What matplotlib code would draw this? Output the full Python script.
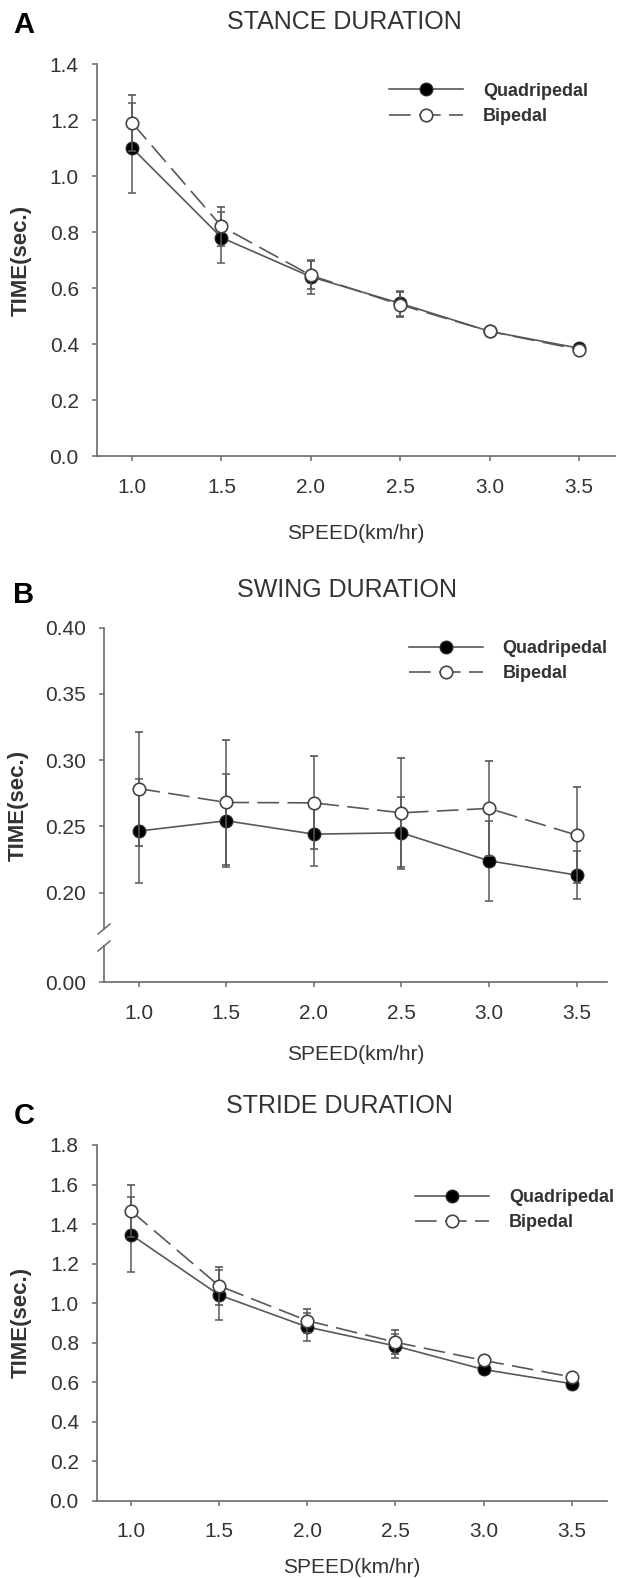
import matplotlib
matplotlib.use("Agg")
import matplotlib.pyplot as plt

plt.rcParams["font.family"] = ["Liberation Sans", "DejaVu Sans"]

speed = [1.0, 1.5, 2.0, 2.5, 3.0, 3.5]
speed_ticks = ["1.0", "1.5", "2.0", "2.5", "3.0", "3.5"]
labels = ["Quadripedal", "Bipedal"]

stance_quad = [1.10, 0.78, 0.64, 0.545, 0.445, 0.385]
stance_quad_sd = [0.16, 0.09, 0.06, 0.045, 0.01, 0.01]
stance_bip = [1.19, 0.82, 0.645, 0.54, 0.445, 0.38]
stance_bip_sd = [0.10, 0.07, 0.05, 0.045, 0.01, 0.01]

swing_quad = [0.2465, 0.2543, 0.2442, 0.2452, 0.2241, 0.2133]
swing_quad_sd = [0.039, 0.035, 0.024, 0.027, 0.030, 0.018]
swing_bip = [0.2786, 0.2681, 0.2678, 0.2603, 0.2636, 0.2435]
swing_bip_sd = [0.043, 0.0475, 0.035, 0.041, 0.036, 0.036]

stride_quad = [1.346, 1.041, 0.879, 0.783, 0.664, 0.592]
stride_quad_sd = [0.19, 0.128, 0.07, 0.06, 0.02, 0.015]
stride_bip = [1.466, 1.087, 0.911, 0.802, 0.71, 0.626]
stride_bip_sd = [0.13, 0.097, 0.06, 0.06, 0.02, 0.015]

TXT = "#333333"
AXC = "#6a6a6a"
LINE = "#585858"
W, H = 621, 1578


def rect(left, top, right, bottom):
    # pixel box -> figure fraction
    return [left / W, 1 - bottom / H, (right - left) / W, (bottom - top) / H]


def style(ax, left=True, bottom=True):
    for s in ["top", "right"]:
        ax.spines[s].set_visible(False)
    ax.spines["bottom"].set_visible(bottom)
    ax.spines["left"].set_visible(left)
    for s in ["left", "bottom"]:
        ax.spines[s].set_color(AXC)
        ax.spines[s].set_linewidth(1.2)
    ax.tick_params(direction="out", length=3.6, width=1.1, color=AXC,
                   labelsize=15, labelcolor=TXT)
    ax.tick_params(axis="x", pad=12)
    ax.tick_params(axis="y", pad=9.5)


def draw(ax, q, qsd, b, bsd):
    eq = ax.errorbar(speed, q, yerr=qsd, color=LINE, lw=1.2, elinewidth=1.1,
                     capsize=3, capthick=1.1, marker="o", ms=9,
                     mfc="black", mec="#222222", zorder=2, clip_on=False)
    eb = ax.errorbar(speed, b, yerr=bsd, color=LINE, lw=1.2, elinewidth=1.1,
                     capsize=3, capthick=1.1, marker="o", ms=9,
                     mfc="white", mec="#444444", mew=1.2, ls=(0, (13, 5)),
                     zorder=3, clip_on=False)
    return eq, eb


def legend(ax, eq, eb, x, y):
    ax.legend([eq[0], eb[0]], labels, loc="upper left", bbox_to_anchor=(x, y),
              frameon=False, borderpad=0, borderaxespad=0, numpoints=1,
              handlelength=4.1, handletextpad=1.1, labelspacing=0.45,
              prop={"size": 13, "weight": "bold"}, labelcolor=TXT)


fig = plt.figure(figsize=(W / 100, H / 100), dpi=100)

# ---- A: stance
axA = fig.add_axes(rect(97, 64, 615, 456))
style(axA)
eq, eb = draw(axA, stance_quad, stance_quad_sd, stance_bip, stance_bip_sd)
axA.set_xlim(0.804, 3.70)
axA.set_ylim(0, 1.4)
axA.set_yticks([0, 0.2, 0.4, 0.6, 0.8, 1.0, 1.2, 1.4])
axA.set_yticklabels(["0.0", "0.2", "0.4", "0.6", "0.8", "1.0", "1.2", "1.4"])
axA.set_xticks(speed)
axA.set_xticklabels(speed_ticks)
axA.set_xlabel("SPEED(km/hr)", fontsize=15, color=TXT)
axA.set_ylabel("TIME(sec.)", fontsize=16, fontweight="bold", color=TXT)
axA.xaxis.set_label_coords(0.5, -0.174)
axA.yaxis.set_label_coords(-0.125, 0.5)
legend(axA, eq, eb, 0.564, 0.952)

# ---- B: swing, broken y axis
axBt = fig.add_axes(rect(104, 627.7, 607, 929))
axBb = fig.add_axes(rect(104, 946, 607, 982.3), sharex=axBt)
style(axBt, bottom=False)
style(axBb)
eq, eb = draw(axBt, swing_quad, swing_quad_sd, swing_bip, swing_bip_sd)
axBt.set_xlim(0.803, 3.674)
axBt.set_ylim(0.1726, 0.40)
axBt.set_yticks([0.20, 0.25, 0.30, 0.35, 0.40])
axBt.set_yticklabels(["0.20", "0.25", "0.30", "0.35", "0.40"])
axBt.tick_params(axis="x", bottom=False, labelbottom=False)
axBb.set_ylim(0, 0.0274)
axBb.set_yticks([0])
axBb.set_yticklabels(["0.00"])
axBb.set_xticks(speed)
axBb.set_xticklabels(speed_ticks)
axBb.set_xlabel("SPEED(km/hr)", fontsize=15, color=TXT)
axBb.xaxis.set_label_coords(0.5, -1.72)
axBt.set_ylabel("TIME(sec.)", fontsize=16, fontweight="bold", color=TXT)
axBt.yaxis.set_label_coords(-0.149, 0.41)
# break marks
dx = 6 / 503
axBt.plot([-dx, dx], [-5 / 301.3, 5 / 301.3], transform=axBt.transAxes,
          color=AXC, lw=1.1, clip_on=False)
axBb.plot([-dx, dx], [1 - 5 / 36.3, 1 + 5 / 36.3], transform=axBb.transAxes,
          color=AXC, lw=1.1, clip_on=False)
legend(axBt, eq, eb, 0.606, 0.959)

# ---- C: stride
axC = fig.add_axes(rect(97, 1145, 607, 1500.7))
style(axC)
eq, eb = draw(axC, stride_quad, stride_quad_sd, stride_bip, stride_bip_sd)
axC.set_xlim(0.807, 3.70)
axC.set_ylim(0, 1.8)
axC.set_yticks([0, 0.2, 0.4, 0.6, 0.8, 1.0, 1.2, 1.4, 1.6, 1.8])
axC.set_yticklabels(["0.0", "0.2", "0.4", "0.6", "0.8", "1.0", "1.2", "1.4",
                     "1.6", "1.8"])
axC.set_xticks(speed)
axC.set_xticklabels(speed_ticks)
axC.set_xlabel("SPEED(km/hr)", fontsize=15, color=TXT)
axC.set_ylabel("TIME(sec.)", fontsize=16, fontweight="bold", color=TXT)
axC.xaxis.set_label_coords(0.5, -0.162)
axC.yaxis.set_label_coords(-0.127, 0.5)
legend(axC, eq, eb, 0.624, 0.876)

# titles and panel letters
for txt, x, y in [("STANCE DURATION", 344, 22), ("SWING DURATION", 347, 590),
                  ("STRIDE DURATION", 339, 1106)]:
    fig.text(x / W, 1 - y / H, txt, ha="center", va="center", fontsize=18,
             color=TXT)
for txt, y in [("A", 25), ("B", 595), ("C", 1116)]:
    fig.text(24 / W, 1 - y / H, txt, ha="center", va="center", fontsize=21,
             fontweight="bold", color="black")

fig.savefig("out.png", dpi=100)
